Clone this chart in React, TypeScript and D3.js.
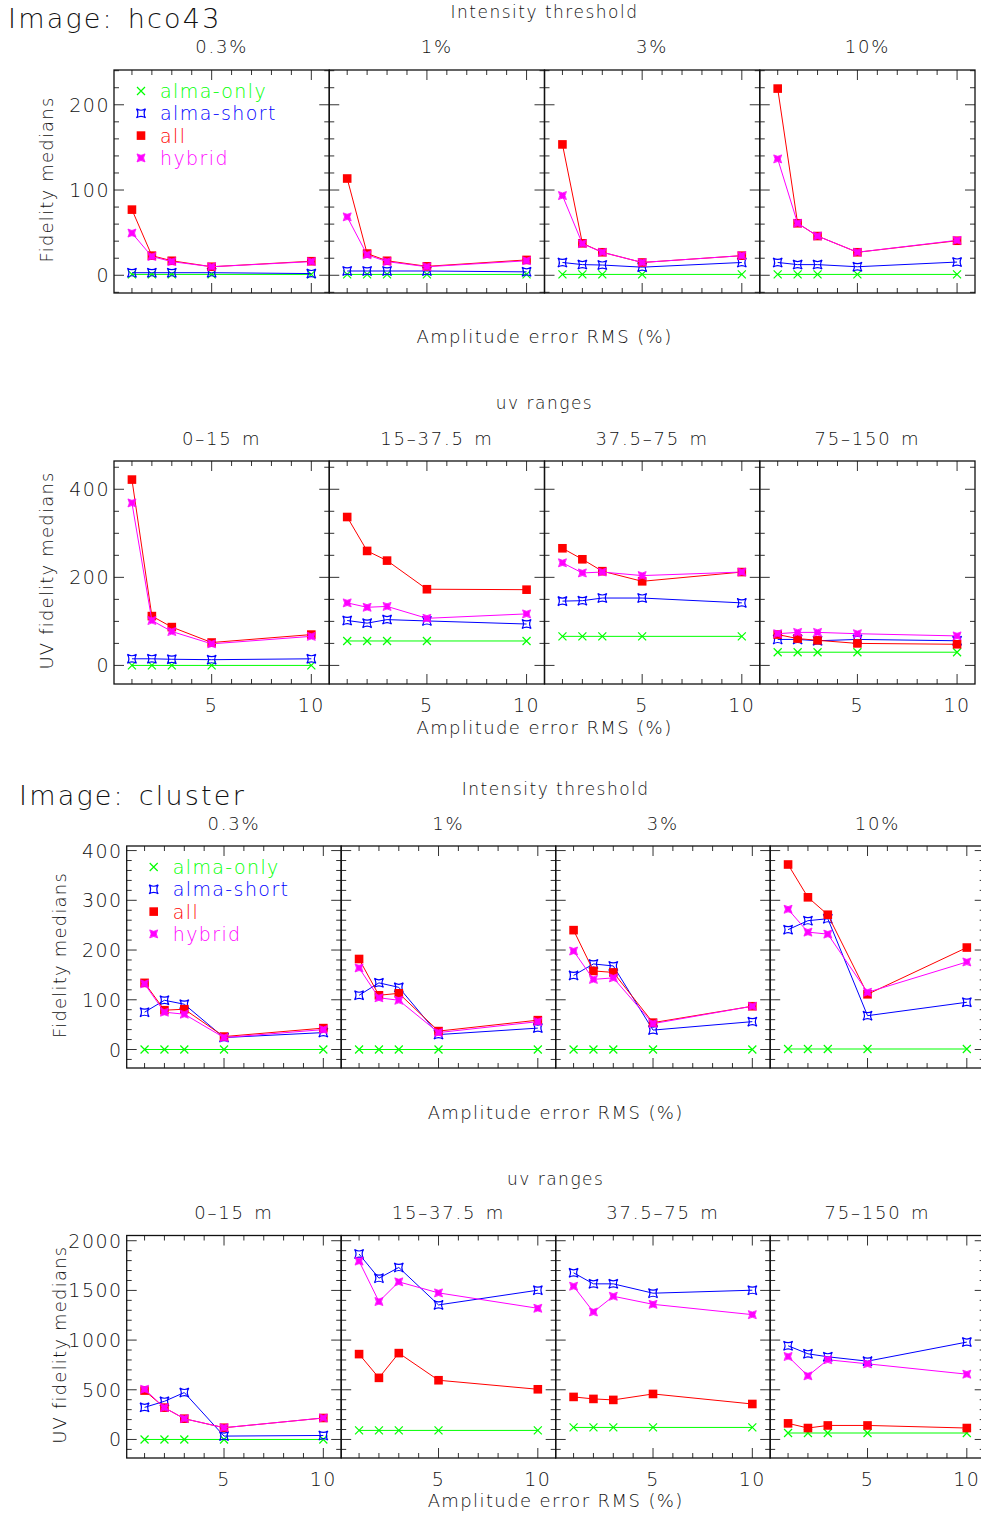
import React from "react";
import * as d3 from "d3";

// x values: amplitude error RMS (%)
const amplitudeErrors = [1, 2, 3, 5, 10];
const seriesNames = ["alma-only", "alma-short", "all", "hybrid"];
const thresholdLabels = ["0.3%", "1%", "3%", "10%"];
const uvRangeLabels = ["0–15 m", "15–37.5 m", "37.5–75 m", "75–150 m"];

// hco43 fidelity medians, one row per threshold panel
const hcoFidAlmaOnly = [[1, 1, 1, 1, 1], [1, 1, 1, 1, 1], [1, 1, 1, 1, 1], [1, 1, 1, 1, 1]];
const hcoFidAlmaShort = [[3, 3, 3, 3, 2], [5, 5, 5, 5, 4], [15, 12.5, 12, 9.5, 15], [15, 12.5, 12.5, 10, 15.5]];
const hcoFidAll = [[77, 23, 17, 10, 16.5], [113.5, 25.5, 17, 10.5, 18], [153.5, 37.5, 27, 15, 23], [219, 61, 46, 27, 40.5]];
const hcoFidHybrid = [[49.5, 22, 16, 10, 16], [68.5, 24, 16, 10, 17], [93.5, 37, 27, 15, 23], [136.5, 61, 46, 27, 41]];

// hco43 uv fidelity medians, one row per uv range
const hcoUvAlmaOnly = [[0, 0, 0, 0, 0], [55.5, 55.5, 55.5, 55.5, 55.5], [66, 66, 66, 66, 66], [30, 30, 30, 30, 30]];
const hcoUvAlmaShort = [[15, 15, 14, 13, 15], [102, 96, 104, 101, 94], [146, 147, 153, 153, 142], [59, 59, 56, 59, 56]];
const hcoUvAll = [[422, 112, 87, 52, 70], [337, 260, 238, 173, 172], [266, 241, 214, 191, 212], [70, 61, 57, 50, 48]];
const hcoUvHybrid = [[369, 102, 77, 49, 66], [142, 132, 134, 107, 117], [233, 210, 212, 204, 212], [72, 75, 75, 72, 67]];

// cluster fidelity medians
const clFidAlmaOnly = [[0, 0, 0, 0, 0], [0, 0, 0, 0, 0], [0, 0, 0, 0, 0], [1, 1, 1, 1, 1]];
const clFidAlmaShort = [[75, 99, 91, 24, 34], [109, 134, 125, 30, 43], [149, 172, 168, 39, 56], [241, 259, 263, 68, 95]];
const clFidAll = [[134, 79, 81, 26, 43], [182, 109, 113, 37, 59], [240, 158, 155, 54, 87], [372, 306, 271, 111, 205]];
const clFidHybrid = [[132, 75, 71, 24, 40], [164, 104, 99, 34, 56], [198, 141, 144, 52, 87], [282, 236, 232, 115, 176]];

// cluster uv fidelity medians
const clUvAlmaOnly = [[0, 0, 0, 0, 0], [91, 91, 91, 91, 91], [121, 121, 121, 121, 121], [65, 65, 65, 65, 65]];
const clUvAlmaShort = [[323, 384, 472, 34, 40], [1866, 1623, 1731, 1354, 1502], [1677, 1566, 1566, 1472, 1502], [943, 862, 832, 788, 980]];
const clUvAll = [[492, 320, 209, 118, 216], [859, 620, 869, 596, 505], [428, 408, 398, 458, 357], [162, 115, 141, 141, 115]];
const clUvHybrid = [[505, 320, 209, 118, 216], [1795, 1388, 1586, 1475, 1320], [1542, 1283, 1441, 1360, 1256], [835, 640, 802, 761, 657]];

const colors = ["#00ff00", "#0000ff", "#ff0000", "#ff00ff"];
const FONT = "'DejaVu Sans', sans-serif";
const INK = "#111";

function Marker({ kind, x, y, color }: { kind: number; x: number; y: number; color: string }) {
  if (kind === 0) {
    const s = 4;
    return (
      <path d={`M${x - s},${y - s}L${x + s},${y + s}M${x - s},${y + s}L${x + s},${y - s}`} stroke={color} strokeWidth={1.2} fill="none" />
    );
  }
  if (kind === 1) {
    const s = 4.5, c = 1.6;
    const d = `M${x - s},${y - s}Q${x},${y - c} ${x + s},${y - s}Q${x + c},${y} ${x + s},${y + s}Q${x},${y + c} ${x - s},${y + s}Q${x - c},${y} ${x - s},${y - s}Z`;
    return <path d={d} stroke={color} strokeWidth={1.2} fill="none" />;
  }
  if (kind === 2) {
    return <rect x={x - 4.3} y={y - 4.3} width={8.6} height={8.6} fill={color} />;
  }
  const s = 4, c = 1.2;
  const d = `M${x - s},${y - s}Q${x},${y - c} ${x + s},${y - s}Q${x + c},${y} ${x + s},${y + s}Q${x},${y + c} ${x - s},${y + s}Q${x - c},${y} ${x - s},${y - s}Z`;
  return <path d={d} fill={color} stroke={color} strokeWidth={0.8} />;
}

type Group = {
  key: string;
  left: number;
  top: number;
  bottom: number;
  width: number;
  data: number[][][];
  titles: string[];
  yMajor: number;
  yMinor: number;
  xLabels: boolean;
  yLabel: string;
  yLabelX: number;
  legend: boolean;
  imageLabel?: string;
  imageLabelX?: number;
  imageLabelY?: number;
  supTitle: string;
  supTitleY: number;
  titleY: number;
  xTitleY: number;
};

const groups: Group[] = [
  {
    key: "hcoFid", left: 114, top: 70, bottom: 293, width: 215.25,
    data: [hcoFidAlmaOnly, hcoFidAlmaShort, hcoFidAll, hcoFidHybrid],
    titles: thresholdLabels, yMajor: 100, yMinor: 20, xLabels: false,
    yLabel: "Fidelity medians", yLabelX: 53, legend: true,
    imageLabel: "Image: hco43", imageLabelX: 8, imageLabelY: 28,
    supTitle: "Intensity threshold", supTitleY: 18, titleY: 53, xTitleY: 343,
  },
  {
    key: "hcoUv", left: 114, top: 461, bottom: 684, width: 215.25,
    data: [hcoUvAlmaOnly, hcoUvAlmaShort, hcoUvAll, hcoUvHybrid],
    titles: uvRangeLabels, yMajor: 200, yMinor: 50, xLabels: true,
    yLabel: "UV fidelity medians", yLabelX: 53, legend: false,
    supTitle: "uv ranges", supTitleY: 409, titleY: 445, xTitleY: 734,
  },
  {
    key: "clFid", left: 126.7, top: 846, bottom: 1068, width: 214.5,
    data: [clFidAlmaOnly, clFidAlmaShort, clFidAll, clFidHybrid],
    titles: thresholdLabels, yMajor: 100, yMinor: 20, xLabels: false,
    yLabel: "Fidelity medians", yLabelX: 66, legend: true,
    imageLabel: "Image: cluster", imageLabelX: 19, imageLabelY: 805,
    supTitle: "Intensity threshold", supTitleY: 795, titleY: 830, xTitleY: 1119,
  },
  {
    key: "clUv", left: 126.7, top: 1235.5, bottom: 1458, width: 214.5,
    data: [clUvAlmaOnly, clUvAlmaShort, clUvAll, clUvHybrid],
    titles: uvRangeLabels, yMajor: 500, yMinor: 100, xLabels: true,
    yLabel: "UV fidelity medians", yLabelX: 66, legend: false,
    supTitle: "uv ranges", supTitleY: 1185, titleY: 1219, xTitleY: 1507,
  },
];

function padded(ext: [number, number]): [number, number] {
  const r = ext[1] - ext[0];
  return [ext[0] - 0.1 * r, ext[1] + 0.1 * r];
}

const txt = { fontFamily: FONT, fontWeight: 200, fill: INK } as const;

function GroupPlot({ g }: { g: Group }) {
  const all = g.data.flat(2);
  const yDom = padded(d3.extent(all) as [number, number]);
  const xDom = padded(d3.extent(amplitudeErrors) as [number, number]);
  const y = d3.scaleLinear().domain(yDom).range([g.bottom, g.top]);
  const center = g.left + g.width * 2;

  const xTicks = d3.range(Math.ceil(xDom[0]), Math.floor(xDom[1]) + 1);
  const yTicks = d3.range(Math.ceil(yDom[0] / g.yMinor) * g.yMinor, yDom[1], g.yMinor);
  const yMajors = yTicks.filter((v) => Math.abs(v % g.yMajor) < 1e-9);

  return (
    <g>
      {g.imageLabel && (
        <text x={g.imageLabelX} y={g.imageLabelY} fontSize={27} {...txt} letterSpacing={2.2} wordSpacing={3}>
          {g.imageLabel}
        </text>
      )}
      <text x={center} y={g.supTitleY} textAnchor="middle" fontSize={17} {...txt} letterSpacing={1.5}>
        {g.supTitle}
      </text>
      <text x={center} y={g.xTitleY} textAnchor="middle" fontSize={18} {...txt} letterSpacing={1.4}>
        Amplitude error RMS (%)
      </text>
      <text
        transform={`translate(${g.yLabelX},${(g.top + g.bottom) / 2 - 2}) rotate(-90)`}
        textAnchor="middle" fontSize={18} {...txt} letterSpacing={1.2}
      >
        {g.yLabel}
      </text>
      {yMajors.map((v) => (
        <text key={v} x={g.left - 4} y={y(v) + 7} textAnchor="end" fontSize={19} {...txt} letterSpacing={1.5}>
          {v}
        </text>
      ))}
      {g.titles.map((t, i) => {
        const x0 = g.left + i * g.width;
        const x = d3.scaleLinear().domain(xDom).range([x0, x0 + g.width]);
        const line = d3
          .line<number>()
          .x((_, k) => x(amplitudeErrors[k]))
          .y((d) => y(d));
        return (
          <g key={t}>
            <text x={x0 + g.width / 2} y={g.titleY} textAnchor="middle" fontSize={18} {...txt} letterSpacing={1.8} wordSpacing={2}>
              {t}
            </text>
            {xTicks.map((v) => {
              const len = v % 5 === 0 ? 10 : 5;
              return (
                <g key={"x" + v} stroke="#333" strokeWidth={1}>
                  <line x1={x(v)} x2={x(v)} y1={g.bottom} y2={g.bottom - len} />
                  <line x1={x(v)} x2={x(v)} y1={g.top} y2={g.top + len} />
                </g>
              );
            })}
            {yTicks.map((v) => {
              const len = Math.abs(v % g.yMajor) < 1e-9 ? 10 : 5;
              return (
                <g key={"y" + v} stroke="#333" strokeWidth={1}>
                  <line x1={x0} x2={x0 + len} y1={y(v)} y2={y(v)} />
                  <line x1={x0 + g.width} x2={x0 + g.width - len} y1={y(v)} y2={y(v)} />
                </g>
              );
            })}
            {g.xLabels &&
              [5, 10].map((v) => (
                <text key={"l" + v} x={x(v)} y={g.bottom + 28} textAnchor="middle" fontSize={19} {...txt} letterSpacing={1.5}>
                  {v}
                </text>
              ))}
            {g.data.map((series, s) => (
              <g key={seriesNames[s]}>
                <path d={line(series[i]) || ""} fill="none" stroke={colors[s]} strokeWidth={1} />
                {series[i].map((v, k) => (
                  <Marker key={k} kind={s} x={x(amplitudeErrors[k])} y={y(v)} color={colors[s]} />
                ))}
              </g>
            ))}
            <rect x={x0} y={g.top} width={g.width} height={g.bottom - g.top} fill="none" stroke="#111" strokeWidth={1.3} />
          </g>
        );
      })}
      {g.legend &&
        seriesNames.map((name, s) => {
          const ly = g.top + 21 + s * 22.3;
          const lx = g.left + 27;
          return (
            <g key={name}>
              <Marker kind={s} x={lx} y={ly} color={colors[s]} />
              <text x={lx + 19} y={ly + 7} fontSize={19} fontFamily={FONT} fontWeight={200} fill={colors[s]} letterSpacing={1.4}>
                {name}
              </text>
            </g>
          );
        })}
    </g>
  );
}

export default function App() {
  return (
    <svg width={981} height={1514} style={{ position: "absolute", left: 0, top: 0, background: "#fff" }}>
      <rect width={981} height={1514} fill="#fff" />
      {groups.map((g) => (
        <GroupPlot key={g.key} g={g} />
      ))}
    </svg>
  );
}
